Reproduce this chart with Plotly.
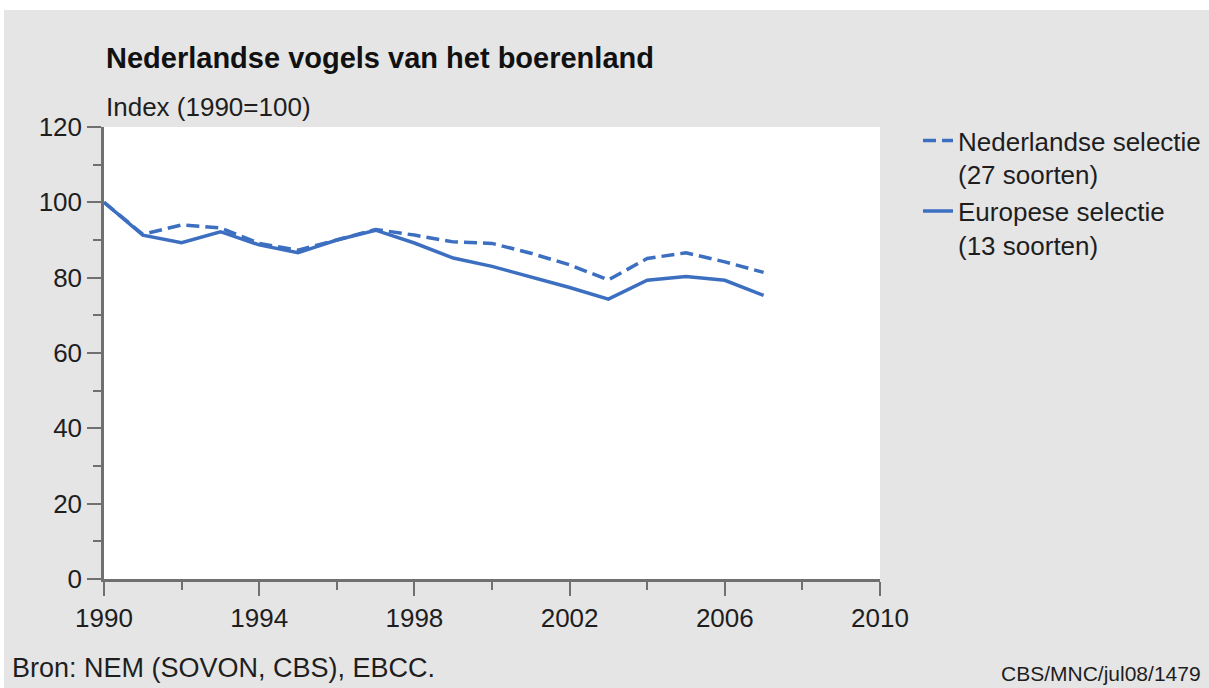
import plotly.graph_objects as go

years = list(range(1990, 2008))
nederlandse = [100, 91.5, 94, 93.2, 89.1, 87.3, 90, 92.8, 91.3, 89.5, 89.1, 86.5, 83.4, 79.4, 85.1, 86.6, 84.2, 81.4]
europese = [100, 91.3, 89.3, 92.2, 88.7, 86.6, 90, 92.6, 89.2, 85.2, 83.0, 80.3, 77.4, 74.3, 79.3, 80.3, 79.3, 75.3]

series_names = ["Nederlandse selectie<br>(27 soorten)", "Europese selectie<br>(13 soorten)"]
x_major = list(range(1990, 2011, 4))
x_minor = list(range(1992, 2011, 4))
y_major = list(range(0, 121, 20))
y_minor = list(range(10, 120, 20))

blue = "#3d6fc1"
bg = "#e5e5e5"
axis_col = "#707070"
txt = "#1e1e1e"
font_family = "Liberation Sans, Arial, sans-serif"

W, H = 1209, 688
L, R, T, B = 104, 880, 127, 579
pw, ph = R - L, B - T


def px(x):
    return (x - L) / pw


def py(y):
    return (B - y) / ph


fig = go.Figure()
fig.add_trace(go.Scatter(x=years, y=nederlandse, mode="lines", name=series_names[0],
                         line=dict(color=blue, width=3.5, dash="13px,6px")))
fig.add_trace(go.Scatter(x=years, y=europese, mode="lines", name=series_names[1],
                         line=dict(color=blue, width=3.5)))

axis_common = dict(ticks="outside", ticklen=14, tickwidth=1.5, tickcolor=axis_col,
                   showline=True, linecolor=axis_col, linewidth=2.5, showgrid=False,
                   zeroline=False, tickfont=dict(size=26, color=txt))

fig.update_layout(
    width=W, height=H,
    margin=dict(l=L, r=W - R, t=T, b=H - B, autoexpand=False),
    paper_bgcolor=bg, plot_bgcolor="white",
    font=dict(family=font_family, color=txt, size=26),
    showlegend=True,
    legend=dict(x=px(918), y=py(117), xanchor="left", yanchor="top", valign="top",
                bgcolor="rgba(0,0,0,0)", font=dict(size=26, color=txt),
                itemwidth=30, borderwidth=0),
    xaxis=dict(range=[1990, 2010], tickvals=x_major,
               minor=dict(tickvals=x_minor, ticks="outside", ticklen=8, tickwidth=1.5,
                          tickcolor=axis_col, showgrid=False),
               **axis_common),
    yaxis=dict(range=[0, 120], tickvals=y_major,
               minor=dict(tickvals=y_minor, ticks="outside", ticklen=8, tickwidth=1.5,
                          tickcolor=axis_col, showgrid=False),
               **axis_common),
    shapes=[
        dict(type="rect", xref="paper", yref="paper", x0=px(-20), x1=px(W + 20),
             y0=py(10), y1=py(-20), fillcolor="white", line=dict(width=0), layer="below"),
        dict(type="rect", xref="paper", yref="paper", x0=px(-20), x1=px(4),
             y0=py(H + 20), y1=py(-20), fillcolor="white", line=dict(width=0), layer="below"),
    ],
    annotations=[
        dict(text="<b>Nederlandse vogels van het boerenland</b>", xref="paper", yref="paper",
             x=px(104), y=py(58), xanchor="left", yanchor="middle", showarrow=False,
             font=dict(size=29, color="#111111")),
        dict(text="Index (1990=100)", xref="paper", yref="paper",
             x=px(104), y=py(107), xanchor="left", yanchor="middle", showarrow=False,
             font=dict(size=26, color=txt)),
        dict(text="Bron: NEM (SOVON, CBS), EBCC.", xref="paper", yref="paper",
             x=px(10), y=py(668), xanchor="left", yanchor="middle",
             showarrow=False, font=dict(size=27, color=txt)),
        dict(text="CBS/MNC/jul08/1479", xref="paper", yref="paper",
             x=px(1203), y=py(673), xanchor="right", yanchor="middle",
             showarrow=False, font=dict(size=21, color=txt)),
    ],
)

fig.write_html("out.html", config={"displayModeBar": False},
               post_script="document.body.style.margin='0';document.body.style.overflow='hidden';")
